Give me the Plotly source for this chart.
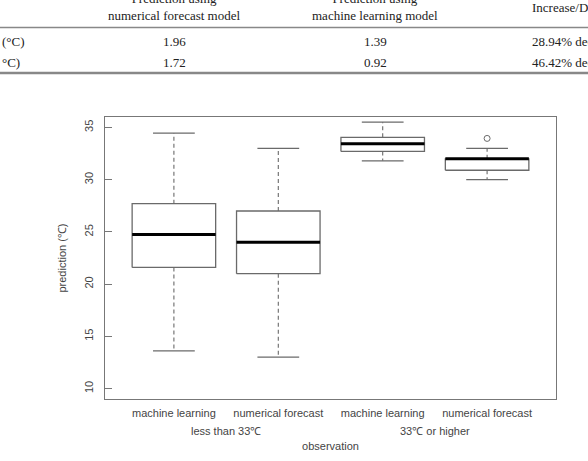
import plotly.graph_objects as go

# ---- data ----
categories = ["machine learning", "numerical forecast", "machine learning", "numerical forecast"]
groups = ["less than 33\u2103", "33\u2103 or higher"]
lower_whisker = [13.6, 13.0, 31.8, 30.0]
q1 = [21.6, 21.0, 32.7, 30.9]
median = [24.75, 24.0, 33.45, 32.0]
q3 = [27.7, 27.0, 34.05, 32.0]
upper_whisker = [34.45, 33.0, 35.5, 33.0]
outliers = [[], [], [], [33.95]]
y_ticks = [10, 15, 20, 25, 30, 35]

table_header = ["Prediction using<br>numerical forecast model", "Prediction using<br>machine learning model", "Increase/Decrease"]
table_rows = [["(\u00b0C)", "1.96", "1.39", "28.94% decrease"],
              ["\u00b0C)", "1.72", "0.92", "46.42% decrease"]]

W, H = 588, 461
L, R, T, B = 105, 32, 117, 62
box_half = 0.4
cap_half = 0.2
gray = "#6a6a6a"

fig = go.Figure()
pos = list(range(1, len(categories) + 1))

for i, x in enumerate(pos):
    # box rectangle
    fig.add_trace(go.Scatter(
        x=[x - box_half, x + box_half, x + box_half, x - box_half, x - box_half],
        y=[q1[i], q1[i], q3[i], q3[i], q1[i]],
        mode="lines", line=dict(color=gray, width=1.3), hoverinfo="skip", showlegend=False))
    # whiskers dashed
    fig.add_trace(go.Scatter(x=[x, x], y=[q3[i], upper_whisker[i]], mode="lines",
                             line=dict(color=gray, width=1.1, dash="4px,3px"), hoverinfo="skip", showlegend=False))
    fig.add_trace(go.Scatter(x=[x, x], y=[q1[i], lower_whisker[i]], mode="lines",
                             line=dict(color=gray, width=1.1, dash="4px,3px"), hoverinfo="skip", showlegend=False))
    # caps
    for v in (upper_whisker[i], lower_whisker[i]):
        fig.add_trace(go.Scatter(x=[x - cap_half, x + cap_half], y=[v, v], mode="lines",
                                 line=dict(color=gray, width=1.3), hoverinfo="skip", showlegend=False))
    # median
    fig.add_trace(go.Scatter(x=[x - box_half, x + box_half], y=[median[i], median[i]], mode="lines",
                             line=dict(color="black", width=3), hoverinfo="skip", showlegend=False))
    # outliers
    if outliers[i]:
        fig.add_trace(go.Scatter(x=[x] * len(outliers[i]), y=outliers[i], mode="markers",
                                 marker=dict(symbol="circle-open", size=6, color=gray, line=dict(width=1)),
                                 hoverinfo="skip", showlegend=False))

axis_font = dict(family="Liberation Sans, Arial, sans-serif", size=11, color="#444444")

fig.update_xaxes(range=[0.34, 4.66], tickvals=pos, ticktext=categories, ticks="",
                 showgrid=False, zeroline=False, showline=True, mirror=True,
                 linecolor="#777777", linewidth=1.3, tickfont=axis_font, ticklabelstandoff=4,
                 title=dict(text="observation", font=axis_font, standoff=23))
fig.update_yaxes(range=[9, 36], tickvals=y_ticks, ticks="inside", ticklen=7, tickcolor="#777777",
                 tickangle=-90, showgrid=False, zeroline=False, showline=True, mirror=True,
                 linecolor="#777777", linewidth=1.3, tickfont=axis_font, ticklabelstandoff=6,
                 title=dict(text="prediction (\u2103)", font=axis_font, standoff=14))

plot_h = H - T - B
plot_w = W - L - R

def px_x(px):
    return (px - L) / plot_w

def px_y(py):
    return (H - B - py) / plot_h

# group labels
group_x = [(pos[0] + pos[1]) / 2, (pos[2] + pos[3]) / 2]
for gx, g in zip(group_x, groups):
    fig.add_annotation(x=gx, xref="x", y=px_y(431), yref="paper", text=g, showarrow=False,
                       font=axis_font, yanchor="middle")

# ---- table fragment at top (serif) ----
serif = dict(family="Liberation Serif, Times New Roman, serif", size=13, color="#222222")
col_x = [0, 174, 375, 530]
col_anchor = ["left", "center", "center", "left"]

fig.add_annotation(x=px_x(col_x[1]), y=px_y(7), xref="paper", yref="paper", text=table_header[0],
                   showarrow=False, font=serif, xanchor="center", yanchor="middle", align="center")
fig.add_annotation(x=px_x(col_x[2]), y=px_y(7), xref="paper", yref="paper", text=table_header[1],
                   showarrow=False, font=serif, xanchor="center", yanchor="middle", align="center")
fig.add_annotation(x=px_x(col_x[3]), y=px_y(8), xref="paper", yref="paper", text=table_header[2],
                   showarrow=False, font=serif, xanchor="left", yanchor="middle")
row_y = [41, 62]
for r, ry in zip(table_rows, row_y):
    for c, (cx, anc) in enumerate(zip(col_x, col_anchor)):
        fig.add_annotation(x=px_x(cx), y=px_y(ry), xref="paper", yref="paper", text=r[c],
                           showarrow=False, font=serif, xanchor=anc, yanchor="middle")

fig.add_shape(type="line", xref="paper", yref="paper", x0=px_x(0), x1=px_x(W), y0=px_y(27.5), y1=px_y(27.5),
              line=dict(color="#888888", width=1.5))
fig.add_shape(type="line", xref="paper", yref="paper", x0=px_x(0), x1=px_x(W), y0=px_y(73), y1=px_y(73),
              line=dict(color="#888888", width=2.5))

fig.update_layout(width=W, height=H, margin=dict(l=L, r=R, t=T, b=B, autoexpand=False),
                  plot_bgcolor="white", paper_bgcolor="white", showlegend=False)

fig.write_html("out.html")
